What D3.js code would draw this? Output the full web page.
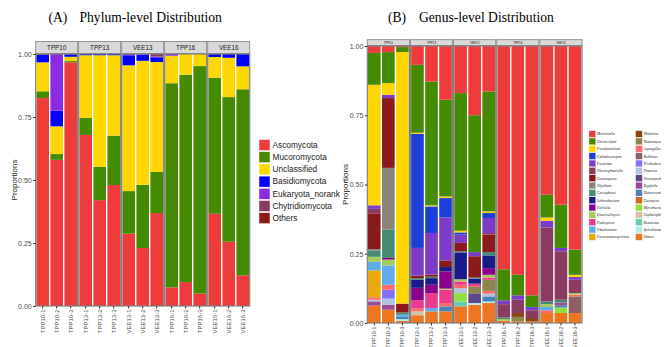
<svg width="669" height="347"></svg>

<script src="https://d3js.org/d3.v7.min.js"></script>
<script>
	// Two faceted stacked bar charts: phylum (A) and genus (B) proportions

	const samples = ["TPP10-1","TPP10-2","TPP10-3","TPP13-1","TPP13-2","TPP13-3","VEE13-1","VEE13-2","VEE13-3",
		"TPP16-1","TPP16-2","TPP16-3","VEE16-1","VEE16-2","VEE16-3"]
	const groups = ["TPP10","TPP13","VEE13","TPP16","VEE16"]
	const yTicks = [0, 0.25, 0.5, 0.75, 1]

	// Phylum level, legend order (first = bottom of stack)
	const phyla = ["Ascomycota","Mucoromycota","Unclassified","Basidiomycota","Eukaryota_norank","Chytridiomycota","Others"]
	const phylumColors = ["#EE3B3B","#458B00","#FFD700","#0000FF","#8A2BE2","#8B3A62","#8B1A1A"]
	const ascomycota   = [.825,.580,.967,.679,.420,.480,.287,.230,.369,.074,.095,.050,.366,.255,.122]
	const mucoromycota = [.027,.023,.005,.067,.132,.196,.169,.251,.163,.810,.823,.902,.540,.574,.738]
	const unclassified = [.115,.110,.017,.249,.443,.319,.499,.492,.436,.109,.082,.048,.082,.156,.091]
	const basidiomycota= [.030,.062,.010,.005,.005,.005,.040,.025,.019,0,0,0,.012,.015,.049]
	const eukaryota    = [0,.225,0,0,0,0,.005,0,.003,.007,0,0,0,0,0]
	const chytridio    = [.003,0,.001,0,0,0,0,.002,.010,0,0,0,0,0,0]
	const otherPhyla   = [0,0,0,0,0,0,0,0,0,0,0,0,0,0,0]
	const phylumShares = [ascomycota, mucoromycota, unclassified, basidiomycota, eukaryota, chytridio, otherPhyla]

	// Genus level, legend order (first = top of stack)
	const genera = ["Mortierella","Unclassified","Pseudeurotium","Cylindrocarpon","Fusarium","Plectosphaerella",
		"Cosmospora","Olpidium","Cercophora","Schizothecium","Petriella","Emericellopsis","Podospora","Chaetomium",
		"Paracamarosporium","Thielavia","Talaromyces","Aspergillus","Bolbitius","Trichoderma","Preussia",
		"Paramyrothecium","Zopfiella","Heteroconium","Geomyces","Myrothecium","Cephalophora","Kotaloma",
		"Spiroblastum","Others"]
	const genusColors = ["#EE3B3B","#458B00","#FFD700","#1C3FD8","#7D3CC8","#8B3A62","#8B1A1A","#8B8378",
		"#458B74","#1A1A8B","#8B008B","#A2CD5A","#EE3A8C","#5CACEE","#E8A80E","#8B4513","#8B864E","#FF6A6A",
		"#8B5F65","#8470FF","#B0C4DE","#5D478B","#9A4C9A","#4682B4","#D2691E","#90E040","#D2C3A8","#66CDAA",
		"#AEEEEE","#EE7621"]
	const genusShares = [
		[.025,.022,.004,.068,.128,.194,.170,.250,.164,.806,.826,.900,.537,.573,.735],
		[.115,.112,.018,.245,.447,.349,.497,.494,.433,.112,.074,.042,.082,.156,.091],
		[.435,.042,.908,.004,.004,.006,.006,0,.006,0,0,0,.012,0,.008],
		[0,0,0,.412,.096,.070,.008,0,.018,0,0,.003,0,0,0],
		[.013,.012,0,.100,.150,.155,.030,.015,.054,.014,.016,.009,.024,.012,.010],
		[.016,0,0,0,0,0,0,0,.006,.048,.048,.028,.267,.175,.048],
		[.129,.252,.032,.009,.008,.024,.030,.077,.063,0,0,0,0,0,0],
		[.006,.223,0,0,0,0,0,0,0,0,0,0,0,0,0],
		[.022,.102,.008,.005,.005,0,.004,.004,.012,.006,0,0,.010,.010,0],
		[0,0,0,.030,.024,.016,.097,.018,.046,0,0,0,0,0,0],
		[0,.006,0,.045,.030,.062,0,0,.024,0,0,0,0,0,0],
		[.018,.021,0,0,0,.004,.008,0,.010,.006,0,0,.010,0,.006],
		[0,0,0,.030,.054,.048,.012,.010,.008,0,0,0,0,0,0],
		[.031,.070,.008,0,.012,0,0,0,0,0,0,0,.012,0,0],
		[.097,0,0,0,0,0,0,0,0,0,0,0,0,0,0],
		[0,0,0,0,0,0,0,0,0,0,.014,.012,0,0,0],
		[0,0,0,0,0,0,0,.025,.040,0,.016,0,0,0,0],
		[.009,.018,0,.010,0,.012,.012,0,.010,0,0,0,.010,0,.006],
		[0,0,0,0,0,0,0,0,0,0,0,0,0,0,.060],
		[0,.032,0,0,0,0,0,0,0,0,0,0,0,0,0],
		[.006,.022,0,0,0,0,.018,0,.010,0,0,0,0,0,0],
		[0,0,0,0,0,0,0,.035,0,0,0,0,0,0,0],
		[.015,.018,0,0,0,0,0,0,0,0,0,0,0,.010,0],
		[0,0,.008,0,0,.018,0,0,.018,0,0,0,0,.008,0],
		[0,0,0,0,0,0,0,0,0,0,0,0,0,0,0],
		[0,0,0,0,0,0,.030,0,0,0,0,0,0,.020,0],
		[0,0,0,.014,0,0,0,0,0,0,0,0,0,0,0],
		[0,0,0,0,0,0,.018,0,0,0,0,0,0,0,0],
		[0,0,.006,0,0,0,0,.006,.006,0,0,0,0,0,0],
		[.063,.048,.008,.028,.042,.042,.060,.066,.072,.008,.006,.006,.036,.036,.036]
	]

	const svg = d3.select("svg")
		.attr("font-family", "Liberation Sans, Arial, sans-serif")
	svg.append("rect").attr("width", 669).attr("height", 347).attr("fill", "white")

	// builds rows {sample, group, key: value...}
	function makeRows(keys, shares) {
		return samples.map((s, i) => {
			const row = {sample: s, group: s.split("-")[0]}
			keys.forEach((k, j) => row[k] = shares[j][i])
			return row
		})
	}

	function drawPanel(o) {
		const rows = makeRows(o.keys, o.shares)
		const stack = d3.stack().keys(o.stackKeys)(rows)
		const color = d3.scaleOrdinal(o.keys, o.colors)

		const g = svg.append("g")
		const y = d3.scaleLinear([0, 1], [o.bottom, o.top])
		const fx = d3.scaleBand(groups, [o.left, o.right]).paddingInner(0.024)

		groups.forEach(grp => {
			const gx = fx(grp)
			const fw = fx.bandwidth()
			const sub = samples.filter(s => s.startsWith(grp))
			const x = d3.scaleBand(sub, [gx, gx + fw]).paddingInner(0.1).paddingOuter(0.05)

			// strip
			g.append("rect")
				.attr("x", gx).attr("y", o.stripTop)
				.attr("width", fw).attr("height", o.top - o.stripTop - 0.5)
				.attr("fill", "#D9D9D9").attr("stroke", "#7F7F7F").attr("stroke-width", 0.8)
			g.append("text")
				.attr("x", gx + fw / 2).attr("y", (o.stripTop + o.top) / 2)
				.attr("dy", "0.35em").attr("text-anchor", "middle")
				.attr("font-size", o.stripFont).attr("fill", "#1A1A1A")
				.text(grp)

			// stacked bars
			stack.forEach(layer => {
				g.append("g").attr("fill", color(layer.key))
					.selectAll("rect")
					.data(layer.filter(d => d.data.group === grp && d[1] - d[0] > 0))
					.join("rect")
						.attr("x", d => x(d.data.sample))
						.attr("width", x.bandwidth())
						.attr("y", d => y(d[1]))
						.attr("height", d => y(d[0]) - y(d[1]))
			})

			// frame
			g.append("rect")
				.attr("x", gx).attr("y", o.top)
				.attr("width", fw).attr("height", o.bottom - o.top)
				.attr("fill", "none").attr("stroke", "#7F7F7F").attr("stroke-width", 1.2)

			// x axis
			const ax = g.append("g")
				.attr("transform", `translate(0,${o.bottom})`)
				.call(d3.axisBottom(x).tickSize(2.5).tickSizeOuter(0))
			ax.select(".domain").remove()
			ax.selectAll("line").attr("stroke", "#333")
			ax.selectAll("text")
				.attr("font-size", o.xFont).attr("fill", "#4D4D4D")
				.attr("transform", "rotate(-90)")
				.attr("text-anchor", "end")
				.attr("x", -3.5).attr("y", 0).attr("dy", "0.35em")
		})

		// y axis
		const ay = g.append("g")
			.attr("transform", `translate(${o.left},0)`)
			.call(d3.axisLeft(y).tickValues(yTicks).tickFormat(d3.format(".2f")).tickSize(2.5))
		ay.select(".domain").remove()
		ay.selectAll("line").attr("stroke", "#333")
		ay.selectAll("text").attr("font-size", 7).attr("fill", "#4D4D4D").attr("x", -4)

		g.append("text")
			.attr("transform", `translate(${o.left - 19},${(o.top + o.bottom) / 2}) rotate(-90)`)
			.attr("text-anchor", "middle").attr("font-size", 8).attr("fill", "#1A1A1A")
			.text("Proportions")

		// title
		g.append("text").attr("x", o.titleX).attr("y", 14)
			.attr("font-family", "Liberation Serif, Times New Roman, serif").attr("font-size", 13.6)
			.text(o.tag)
		g.append("text").attr("x", o.titleX + 31).attr("y", 14)
			.attr("font-family", "Liberation Serif, Times New Roman, serif").attr("font-size", 13.6)
			.text(o.title)
		return color
	}

	// Panel A
	const colorA = drawPanel({
		keys: phyla, stackKeys: phyla, shares: phylumShares, colors: phylumColors,
		left: 27.7, right: 241.7, top: 46, bottom: 298, stripTop: 33.5,
		stripFont: 6.3, xFont: 6, titleX: 40.5, tag: "(A)", title: "Phylum-level Distribution"
	})

	// Panel B: first genus sits on top, so stack in reverse
	const colorB = drawPanel({
		keys: genera, stackKeys: genera.slice().reverse(), shares: genusShares, colors: genusColors,
		left: 359.3, right: 574, top: 38, bottom: 315, stripTop: 31.7,
		stripFont: 3, xFont: 5.4, titleX: 380, tag: "(B)", title: "Genus-level Distribution"
	})

	// Legend A
	const legA = svg.append("g").attr("transform", "translate(251,131.5)")
	const itemA = legA.selectAll("g").data(phyla).join("g")
		.attr("transform", (d, i) => `translate(0,${i * 12.2})`)
	itemA.append("rect").attr("width", 11).attr("height", 11)
		.attr("fill", d => colorA(d)).attr("stroke", "white").attr("stroke-width", 0.5)
	itemA.append("text").attr("x", 13.5).attr("y", 5.5).attr("dy", "0.35em")
		.attr("font-size", 8.3).attr("fill", "#1A1A1A").text(d => d)

	// Legend B, two columns of 15
	const legB = svg.append("g").attr("transform", "translate(581,122.7)")
	const itemB = legB.selectAll("g").data(genera).join("g")
		.attr("transform", (d, i) => `translate(${Math.floor(i / 15) * 46.6},${(i % 15) * 7.35})`)
	itemB.append("rect").attr("width", 6.7).attr("height", 6.7)
		.attr("fill", d => colorB(d)).attr("stroke", "white").attr("stroke-width", 0.3)
	itemB.append("text").attr("x", 7.8).attr("y", 3.4).attr("dy", "0.35em")
		.attr("font-family", "Liberation Serif, Times New Roman, serif").attr("font-style", "italic")
		.attr("font-size", 3.9).attr("fill", "#1A1A1A").text(d => d)
</script>
